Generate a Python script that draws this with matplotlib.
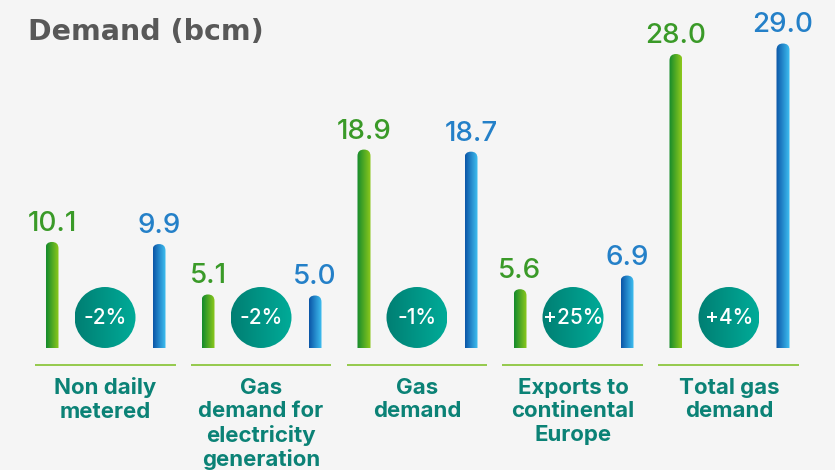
import numpy as np
import matplotlib
matplotlib.use("Agg")
import matplotlib.pyplot as plt
from matplotlib.patches import FancyBboxPatch, Circle
from matplotlib.colors import LinearSegmentedColormap
import matplotlib.transforms as mtransforms

# ---------------- data ----------------
categories = ["Non daily\nmetered",
              "Gas\ndemand for\nelectricity\ngeneration",
              "Gas\ndemand",
              "Exports to\ncontinental\nEurope",
              "Total gas\ndemand"]
values_green = [10.1, 5.1, 18.9, 5.6, 28.0]
values_blue = [9.9, 5.0, 18.7, 6.9, 29.0]
changes = ["-2%", "-2%", "-1%", "+25%", "+4%"]
title = "Demand (bcm)"

# ---------------- style ----------------
BG = "#f5f5f5"
FONT = "Inter"
green_cmap = LinearSegmentedColormap.from_list("g", ["#138a2c", "#8ec91c"])
blue_cmap = LinearSegmentedColormap.from_list("b", ["#0b55a6", "#3fc0f2"])
teal_cmap = LinearSegmentedColormap.from_list("t", ["#007f73", "#00ab98"])
green_txt = "#3a9a28"
blue_txt = "#2480c8"
label_col = "#0b8276"
line_col = "#8cc63f"

W, H, DPI = 835, 470, 100
fig = plt.figure(figsize=(W / DPI, H / DPI), dpi=DPI, facecolor=BG)

px_x = 156.0    # pixels per group
px_y = 10.5     # pixels per bcm
base_px = 348   # baseline pixel from top
ax = fig.add_axes([0, (H - base_px) / H, 1, base_px / H])
ax.set_facecolor(BG)
ax.axis("off")
xlim = (-105 / px_x, (W - 105) / px_x)
ylim = (0, base_px / px_y)

bar_w = 13 / px_x
off_g, off_b = -53 / px_x, 54 / px_x
aspect = px_x / px_y
grad = np.linspace(0, 1, 64).reshape(1, -1)


def gradient_bar(xc, v, cmap):
    r = bar_w / 2
    patch = FancyBboxPatch((xc - bar_w / 2, -3), bar_w, v + 3,
                           boxstyle=f"round,pad=0,rounding_size={r}",
                           mutation_aspect=aspect,
                           facecolor="none", edgecolor="none",
                           transform=ax.transData)
    ax.add_patch(patch)
    im = ax.imshow(grad, cmap=cmap, extent=[xc - bar_w / 2, xc + bar_w / 2, 0, v],
                   aspect="auto", interpolation="bilinear", zorder=2)
    im.set_clip_path(patch)


circ_r_px = 30.5
for i in range(len(categories)):
    xg, xb = i + off_g, i + off_b
    gradient_bar(xg, values_green[i], green_cmap)
    gradient_bar(xb, values_blue[i], blue_cmap)
    ax.text(xg, values_green[i] + 11 / px_y, f"{values_green[i]:.1f}",
            ha="center", va="baseline", fontsize=20, color=green_txt,
            family=FONT, fontweight="medium")
    ax.text(xb, values_blue[i] + 11 / px_y, f"{values_blue[i]:.1f}",
            ha="center", va="baseline", fontsize=20, color=blue_txt,
            family=FONT, fontweight="medium")
    # circle with change
    cy = circ_r_px / px_y
    trans = fig.dpi_scale_trans + mtransforms.ScaledTranslation(i, cy, ax.transData)
    circ = Circle((0, 0), circ_r_px / DPI, transform=trans,
                  facecolor="none", edgecolor="none")
    ax.add_patch(circ)
    im = ax.imshow(grad, cmap=teal_cmap,
                   extent=[i - circ_r_px / px_x, i + circ_r_px / px_x,
                           cy - circ_r_px / px_y, cy + circ_r_px / px_y],
                   aspect="auto", interpolation="bilinear", zorder=3)
    im.set_clip_path(circ)
    ax.text(i, cy, changes[i], ha="center", va="center", fontsize=15,
            color="white", family=FONT, fontweight="medium", zorder=4)
    # separator line
    ax.plot([i - 70.5 / px_x, i + 70.5 / px_x], [-17 / px_y] * 2,
            color=line_col, lw=1.3, clip_on=False, solid_capstyle="butt")
    # category label
    ax.text(i, -29.5 / px_y, categories[i], ha="center", va="top",
            fontsize=16, color=label_col, family=FONT, fontweight="bold",
            linespacing=1.22, clip_on=False)

ax.set_xlim(*xlim)
ax.set_ylim(*ylim)

fig.text(28 / W, 1 - 40 / H, title, ha="left", va="baseline", fontsize=20.5,
         color="#585858", family="DejaVu Sans", fontweight="bold")

fig.savefig("out.png", dpi=DPI, facecolor=BG)
